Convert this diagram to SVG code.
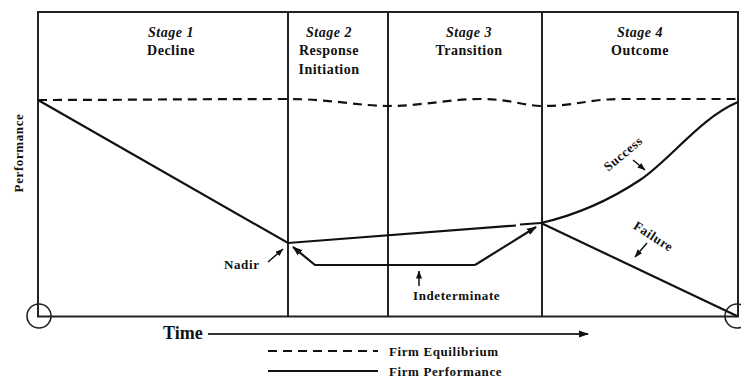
<svg xmlns="http://www.w3.org/2000/svg" width="741" height="378" viewBox="0 0 741 378">
<defs>
<marker id="ah" markerWidth="10" markerHeight="8" refX="9" refY="4" orient="auto" markerUnits="userSpaceOnUse">
<path d="M0,0.5 L10,4 L0,7.5 Z" fill="#111"/>
</marker>
<marker id="ahs" markerWidth="8" markerHeight="6" refX="7.5" refY="3" orient="auto" markerUnits="userSpaceOnUse">
<path d="M0,0 L8,3 L0,6 Z" fill="#111"/>
</marker>
</defs>
<style>
.ln{stroke:#222;stroke-width:2;fill:none}
.perf{stroke:#111;stroke-width:2.2;fill:none}
.dash{stroke:#111;stroke-width:2.2;fill:none;stroke-dasharray:9 6}
.arr{stroke:#111;stroke-width:1.5;fill:none}
text{font-family:"Liberation Serif","Times New Roman",serif;font-weight:bold;fill:#111}
.st{font-size:14px;font-style:italic;text-anchor:middle;letter-spacing:0.5px}
.nm{font-size:14px;text-anchor:middle;letter-spacing:0.5px}
.lb{font-size:13px;letter-spacing:0.6px}
</style>
<rect x="0" y="0" width="741" height="378" fill="#fff"/>
<g id="frame">
<path class="ln" d="M38,12 H738 V316.5 H38 Z"/>
<line class="ln" x1="288" y1="12" x2="288" y2="316.5"/>
<line class="ln" x1="388" y1="12" x2="388" y2="316.5"/>
<line class="ln" x1="542" y1="12" x2="542" y2="316.5"/>
<circle cx="39" cy="316" r="12" fill="none" stroke="#222" stroke-width="1.6"/>
<circle cx="737" cy="316" r="12" fill="none" stroke="#222" stroke-width="1.6"/>
</g>
<g id="stage1"><text class="st" x="171" y="37">Stage 1</text><text class="nm" x="171" y="55">Decline</text></g>
<g id="stage2"><text class="st" x="329" y="37">Stage 2</text><text class="nm" x="329" y="55">Response</text><text class="nm" x="329" y="74">Initiation</text></g>
<g id="stage3"><text class="st" x="469" y="37">Stage 3</text><text class="nm" x="469" y="55">Transition</text></g>
<g id="stage4"><text class="st" x="640" y="37">Stage 4</text><text class="nm" x="640" y="55">Outcome</text></g>
<g id="axis-y"><text class="lb" transform="translate(23,153) rotate(-90)" text-anchor="middle">Performance</text></g>
<g id="axis-x"><text x="163" y="339" style="font-size:18px">Time</text></g>
<g id="connectors">
<path class="dash" d="M38,100 C120,100 200,99 288,99 C330,99 360,106 388,106 C420,106 450,99 480,99 C510,99 525,106 542,106 C575,106 590,99 620,99 L738,99"/>
<path class="perf" d="M38,100 L288,243 L516,225.5 M520,224.5 L541,223"/>
<path class="perf" d="M541,223 C580,214 610,200 640,180 C670,160 700,118 738,102"/>
<path class="perf" d="M541,223 L737,316"/>
<path class="perf" d="M475,265 L536,227" marker-end="url(#ah)"/>
<path class="perf" d="M475,265 L315,265 L293,247" marker-end="url(#ah)"/>
<path class="arr" d="M268,262 L283,249" marker-end="url(#ahs)"/>
<path class="arr" d="M419,286 L419,271" marker-end="url(#ahs)"/>
<path class="arr" d="M633,160 L645,170" marker-end="url(#ahs)"/>
<path class="arr" d="M647,243 L635,257" marker-end="url(#ahs)"/>
<path d="M208,334 H588" stroke="#333" stroke-width="1.8" fill="none" marker-end="url(#ah)"/>
<line class="dash" x1="268" y1="351" x2="378" y2="351"/>
<line class="perf" x1="268" y1="371" x2="378" y2="371"/>
</g>
<g id="nadir"><text class="lb" x="224" y="269">Nadir</text></g>
<g id="indeterminate"><text class="lb" x="413" y="300">Indeterminate</text></g>
<g id="success"><text class="lb" transform="translate(626,157) rotate(-40)" text-anchor="middle">Success</text></g>
<g id="failure"><text class="lb" transform="translate(651,240) rotate(33)" text-anchor="middle">Failure</text></g>
<g id="legend"><text class="lb" x="389" y="356">Firm Equilibrium</text><text class="lb" x="389" y="376">Firm Performance</text></g>
</svg>
